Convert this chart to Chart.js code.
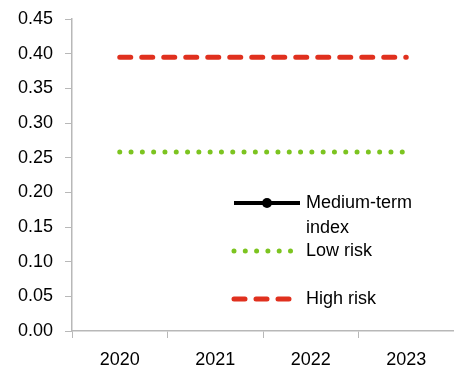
<!DOCTYPE html>
<html>
<head>
<meta charset="utf-8">
<script src="https://cdn.jsdelivr.net/npm/chart.js@4/dist/chart.umd.min.js"></script>
<style>
  html, body { margin: 0; padding: 0; background: #fff; }
  #wrap { width: 454px; height: 371px; position: relative; }
</style>
</head>
<body>
<div id="wrap"><canvas id="riskChart"></canvas></div>
<script>
const years = ['2020', '2021', '2022', '2023'];
const mediumTerm = [null, null, null, null];
const lowRisk = [0.258, 0.258, 0.258, 0.258];
const highRisk = [0.395, 0.395, 0.395, 0.395];
const legendLabels = [['Medium-term', 'index'], ['Low risk'], ['High risk']];

const axisGrey = '#b8b8b8';
const font = { family: '"Liberation Sans", Arial, sans-serif', size: 18 };

// legend drawn inside the plot, like the original
const insideLegend = {
  id: 'insideLegend',
  afterDraw(chart) {
    const ctx = chart.ctx;
    const rows = [203, 251, 299];
    const x0 = 234, x1 = 300;
    ctx.save();
    chart.data.datasets.forEach((ds, i) => {
      const y = rows[i];
      ctx.beginPath();
      ctx.strokeStyle = ds.borderColor;
      ctx.lineWidth = ds.borderWidth;
      ctx.lineCap = ds.borderCapStyle || 'butt';
      ctx.setLineDash(ds.borderDash || []);
      ctx.moveTo(x0, y);
      ctx.lineTo(x1, y);
      ctx.stroke();
      ctx.setLineDash([]);
      if (ds.pointRadius) {
        ctx.beginPath();
        ctx.fillStyle = ds.borderColor;
        ctx.arc((x0 + x1) / 2, y, 5, 0, Math.PI * 2);
        ctx.fill();
      }
      ctx.fillStyle = '#000';
      ctx.font = font.size + 'px ' + font.family;
      ctx.textBaseline = 'middle';
      legendLabels[i].forEach((t, j) => ctx.fillText(t, 306, y + j * 25));
    });
    ctx.restore();
  }
};

new Chart(document.getElementById('riskChart'), {
  type: 'line',
  data: {
    labels: years,
    datasets: [{
      label: 'Medium-term index',
      data: mediumTerm,
      borderColor: '#000',
      backgroundColor: '#000',
      borderWidth: 4,
      pointRadius: 5
    }, {
      label: 'Low risk',
      data: lowRisk,
      borderColor: '#7cc420',
      borderWidth: 5,
      borderDash: [0, 11.3],
      borderCapStyle: 'round',
      pointRadius: 0
    }, {
      label: 'High risk',
      data: highRisk,
      borderColor: '#e0301e',
      borderWidth: 5,
      borderDash: [11, 11],
      borderCapStyle: 'round',
      pointRadius: 0
    }]
  },
  options: {
    responsive: true,
    maintainAspectRatio: false,
    animation: false,
    layout: { autoPadding: false, padding: { top: 19, right: 0, left: 0, bottom: 0 } },
    plugins: { legend: { display: false }, tooltip: { enabled: false } },
    scales: {
      x: {
        offset: true,
        grid: { offset: true, drawOnChartArea: false, color: axisGrey, tickLength: 7 },
        border: { color: axisGrey, width: 1.5 },
        ticks: { color: '#000', font: font, padding: 11, maxRotation: 0 },
        afterFit(scale) {
          scale.height = 40;
          scale.paddingLeft = 0;
          scale.paddingRight = 0;
        }
      },
      y: {
        min: 0,
        max: 0.45,
        grid: { drawOnChartArea: false, color: axisGrey, tickLength: 7 },
        border: { color: axisGrey, width: 1.5 },
        ticks: {
          stepSize: 0.05,
          color: '#000',
          font: font,
          padding: 12,
          callback: v => v.toFixed(2)
        },
        afterFit(scale) {
          scale.width = 72;
          scale.paddingTop = 0;
          scale.paddingBottom = 0;
        }
      }
    }
  },
  plugins: [insideLegend]
});
</script>
</body>
</html>
